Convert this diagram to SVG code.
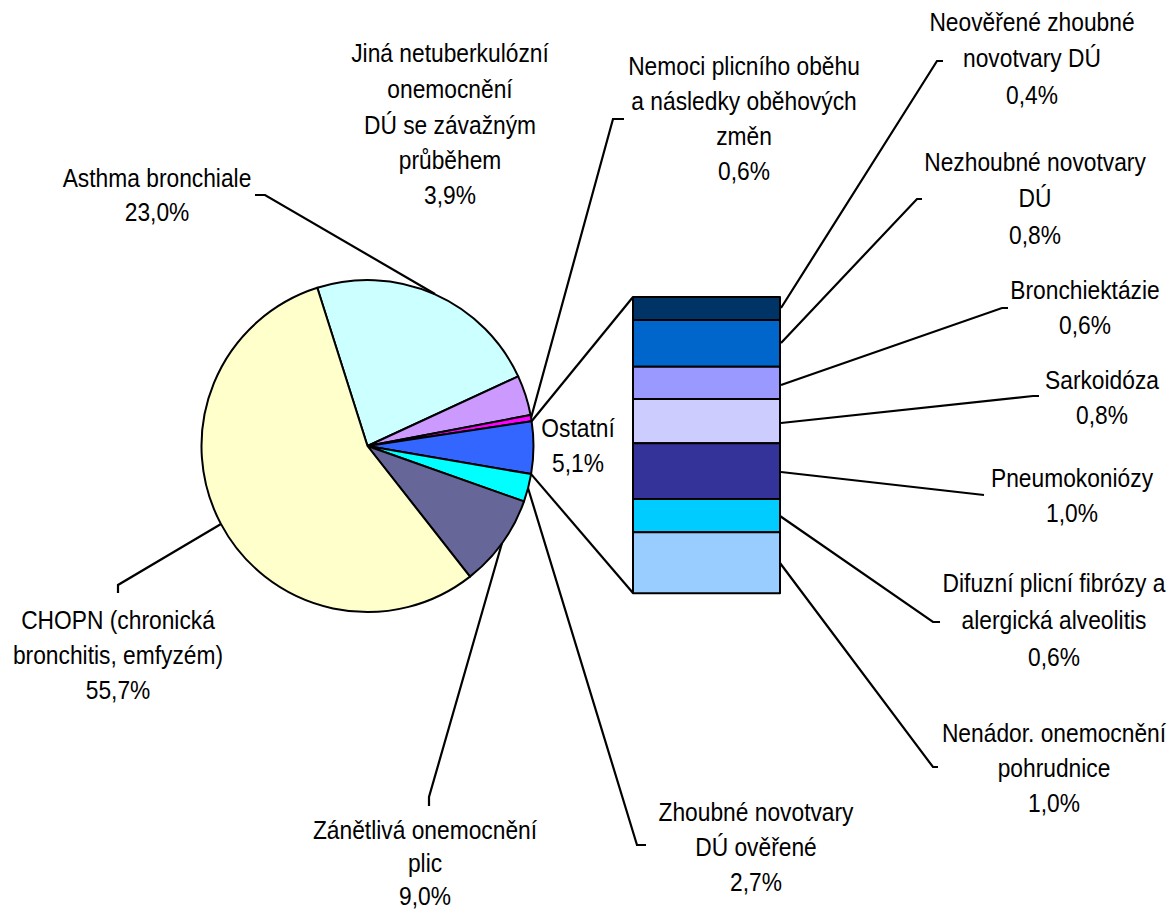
<svg xmlns="http://www.w3.org/2000/svg" width="1173" height="912" viewBox="0 0 1173 912">
<style>
text{font-family:"Liberation Sans",Arial,sans-serif;font-size:26.5px;fill:#000;text-anchor:middle}
.s{stroke:#000;stroke-width:2;stroke-linejoin:round}
.l{fill:none;stroke:#000;stroke-width:2.2}
</style>
<rect width="1173" height="912" fill="#fff"/>
<g id="pie">
<path id="s-asthma" class="s" fill="#CCFFFF" d="M367.5,446 L317.3,287.8 A166,166 0 0 1 518.2,376.4 Z"/>
<path id="s-jina" class="s" fill="#CC99FF" d="M367.5,446 L518.2,376.4 A166,166 0 0 1 530.6,415.0 Z"/>
<path id="s-nemoci" class="s" fill="#FF00FF" d="M367.5,446 L530.6,415.0 A166,166 0 0 1 531.6,421.2 Z"/>
<path id="s-ostatni" class="s" fill="#3366FF" d="M367.5,446 L531.6,421.2 A166,166 0 0 1 531.1,474.1 Z"/>
<path id="s-zhoubne" class="s" fill="#00FFFF" d="M367.5,446 L531.1,474.1 A166,166 0 0 1 524.0,501.4 Z"/>
<path id="s-zanetliva" class="s" fill="#666699" d="M367.5,446 L524.0,501.4 A166,166 0 0 1 470.0,576.6 Z"/>
<path id="s-chopn" class="s" fill="#FFFFCC" d="M367.5,446 L470.0,576.6 A166,166 0 1 1 317.3,287.8 Z"/>
</g>
<g id="bar">
<rect class="s" fill="#003366" x="633" y="297" width="147" height="23"/>
<rect class="s" fill="#0066CC" x="633" y="320" width="147" height="46.7"/>
<rect class="s" fill="#9999FF" x="633" y="366.7" width="147" height="32.3"/>
<rect class="s" fill="#CCCCFF" x="633" y="399" width="147" height="44.3"/>
<rect class="s" fill="#333399" x="633" y="443.3" width="147" height="55.7"/>
<rect class="s" fill="#00CCFF" x="633" y="499" width="147" height="33.3"/>
<rect class="s" fill="#99CCFF" x="633" y="532.3" width="147" height="61"/>
</g>
<g id="connectors">
<path class="l" d="M255,195 H265 L435,294"/>
<path class="l" d="M624,119 H613 L531,418"/>
<path class="l" d="M531.6,421.2 L633,297"/>
<path class="l" d="M531.1,474.1 L633,593"/>
<path class="l" d="M528,488 L637,845 H646"/>
<path class="l" d="M502,543 L429,797 V806"/>
<path class="l" d="M221,524 L118,585 V593"/>
<path class="l" d="M781,308 L937,61 H943"/>
<path class="l" d="M781,343 L917,199 H922"/>
<path class="l" d="M781,385 L1002,308 H1008"/>
<path class="l" d="M781,423 L1033,396 H1039"/>
<path class="l" d="M781,472 L984,495"/>
<path class="l" d="M780,516 L933,622 H940"/>
<path class="l" d="M780,563 L933,767 H938"/>
</g>
<g id="label-asthma" transform="translate(157 0) scale(0.86 1)"><text x="0" y="187">Asthma bronchiale</text><text x="0" y="221">23,0%</text></g>
<g id="label-jina" transform="translate(450 0) scale(0.86 1)"><text x="0" y="62">Jiná netuberkulózní</text><text x="0" y="98">onemocnění</text><text x="0" y="134">DÚ se závažným</text><text x="0" y="169">průběhem</text><text x="0" y="204">3,9%</text></g>
<g id="label-nemoci" transform="translate(744 0) scale(0.86 1)"><text x="0" y="75">Nemoci plicního oběhu</text><text x="0" y="110">a následky oběhových</text><text x="0" y="145">změn</text><text x="0" y="180">0,6%</text></g>
<g id="label-ostatni" transform="translate(578 0) scale(0.86 1)"><text x="0" y="437">Ostatní</text><text x="0" y="472">5,1%</text></g>
<g id="label-zhoubne" transform="translate(756 0) scale(0.86 1)"><text x="0" y="821">Zhoubné novotvary</text><text x="0" y="856">DÚ ověřené</text><text x="0" y="891">2,7%</text></g>
<g id="label-zanetliva" transform="translate(425 0) scale(0.86 1)"><text x="0" y="839">Zánětlivá onemocnění</text><text x="0" y="872">plic</text><text x="0" y="905">9,0%</text></g>
<g id="label-chopn" transform="translate(118 0) scale(0.86 1)"><text x="0" y="629">CHOPN (chronická</text><text x="0" y="664">bronchitis, emfyzém)</text><text x="0" y="699">55,7%</text></g>
<g id="label-neoverene" transform="translate(1032 0) scale(0.86 1)"><text x="0" y="31">Neověřené zhoubné</text><text x="0" y="67">novotvary DÚ</text><text x="0" y="104">0,4%</text></g>
<g id="label-nezhoubne" transform="translate(1035 0) scale(0.86 1)"><text x="0" y="171">Nezhoubné novotvary</text><text x="0" y="207">DÚ</text><text x="0" y="244">0,8%</text></g>
<g id="label-bronchiektazie" transform="translate(1085 0) scale(0.86 1)"><text x="0" y="299">Bronchiektázie</text><text x="0" y="334">0,6%</text></g>
<g id="label-sarkoidoza" transform="translate(1102 0) scale(0.86 1)"><text x="0" y="389">Sarkoidóza</text><text x="0" y="424">0,8%</text></g>
<g id="label-pneumokoniozy" transform="translate(1072 0) scale(0.86 1)"><text x="0" y="487">Pneumokoniózy</text><text x="0" y="522">1,0%</text></g>
<g id="label-difuzni" transform="translate(1054 0) scale(0.86 1)"><text x="0" y="592">Difuzní plicní fibrózy a</text><text x="0" y="629">alergická alveolitis</text><text x="0" y="666">0,6%</text></g>
<g id="label-nenador" transform="translate(1054 0) scale(0.86 1)"><text x="0" y="742">Nenádor. onemocnění</text><text x="0" y="777">pohrudnice</text><text x="0" y="812">1,0%</text></g>
</svg>
